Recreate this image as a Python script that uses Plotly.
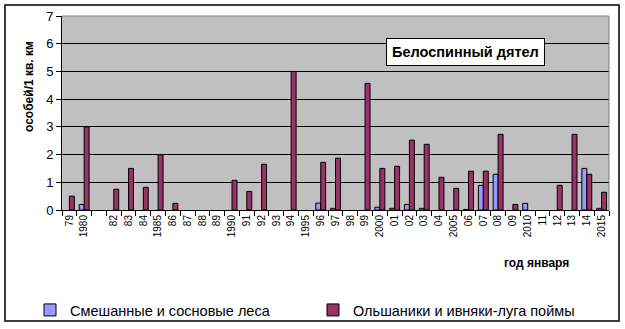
import plotly.graph_objects as go

years = list(range(1979, 2016))
tick_labels = ["79", "1980", "", "82", "83", "84", "1985", "86", "87", "88", "89",
               "1990", "91", "92", "93", "94", "1995", "96", "97", "98", "99",
               "2000", "01", "02", "03", "04", "2005", "06", "07", "08", "09",
               "2010", "11", "12", "13", "14", "2015"]

mixed_forest = [0, 0.2, None, 0, 0, 0, 0, 0, 0, 0, 0,
                0, 0, 0, 0, 0, 0, 0.25, 0.06, 0, 0,
                0.1, 0.06, 0.2, 0.06, 0, 0, 0.02, 0.89, 1.29, 0,
                0.24, 0, 0, 0, 1.5, 0.06]
alder_willow = [0.5, 3.0, None, 0.75, 1.5, 0.82, 2.0, 0.24, 0, 0, 0,
                1.07, 0.67, 1.65, 0, 5.0, 0, 1.72, 1.87, 0, 4.57,
                1.5, 1.58, 2.52, 2.37, 1.18, 0.78, 1.4, 1.4, 2.73, 0.2,
                0, 0, 0.89, 2.73, 1.29, 0.64]

series_names = ["Смешанные и сосновые леса", "Ольшаники и ивняки-луга поймы"]
title_text = "Белоспинный дятел"
y_title = "особей/1 кв. км"
x_title = "год января"

W, H = 625, 329
L, R, T, B = 62, 609, 16, 210  # plot area in pixels


def px(x):
    return (x - L) / (R - L)


def py(y):
    return (B - y) / (B - T)


FONT = "Arial, Liberation Sans, sans-serif"

fig = go.Figure()
fig.add_bar(x=years, y=[v if v else None for v in mixed_forest], name=series_names[0],
            marker=dict(color="#9999FF", line=dict(color="black", width=1)))
fig.add_bar(x=years, y=[v if v else None for v in alder_willow], name=series_names[1],
            marker=dict(color="#993366", line=dict(color="black", width=1)))

fig.update_layout(
    width=W, height=H,
    margin=dict(l=L, r=W - R, t=T, b=H - B, autoexpand=False),
    paper_bgcolor="white",
    plot_bgcolor="#C0C0C0",
    barmode="group",
    bargap=0.33,
    bargroupgap=0,
    font=dict(family=FONT, color="black"),
    showlegend=True,
    legend=dict(orientation="h", x=px(30), y=py(310), xanchor="left", yanchor="middle",
                font=dict(size=14.5, family=FONT), itemwidth=30,
                entrywidth=238, entrywidthmode="pixels",
                bgcolor="rgba(0,0,0,0)", traceorder="normal"),
)

fig.update_xaxes(
    range=[1978.5, 2015.5],
    tickmode="array", tickvals=years, ticktext=tick_labels,
    tickangle=-90, tickfont=dict(size=10, family=FONT),
    ticks="", ticklen=0,
    minor=dict(tickmode="linear", tick0=1978.5, dtick=1, ticks="outside",
               ticklen=5, tickcolor="black", showgrid=False),
    showline=True, linecolor="black", linewidth=1,
    showgrid=False, zeroline=False,
)
fig.update_yaxes(
    range=[0, 7], dtick=1,
    tickfont=dict(size=13, family=FONT),
    ticks="outside", ticklen=5, tickcolor="black",
    showline=True, linecolor="black", linewidth=1,
    showgrid=True, gridcolor="black", gridwidth=1,
    zeroline=False,
)

# plot area border (gray top/right)
fig.add_shape(type="line", xref="paper", yref="paper", x0=0, x1=1, y0=1, y1=1,
              line=dict(color="#808080", width=1))
fig.add_shape(type="line", xref="paper", yref="paper", x0=1, x1=1, y0=0, y1=1,
              line=dict(color="#808080", width=1))
# outer chart border
fig.add_shape(type="rect", xref="paper", yref="paper",
              x0=px(5), x1=px(619), y0=py(321), y1=py(5),
              line=dict(color="black", width=1.5), layer="below")

# title box
fig.add_annotation(xref="paper", yref="paper", x=px(465), y=py(52),
                   text="<b>" + title_text + "</b>", showarrow=False,
                   font=dict(size=14.5, family=FONT, color="black"),
                   bgcolor="white", bordercolor="black", borderwidth=1,
                   borderpad=5, xanchor="center", yanchor="middle")
# y axis title
fig.add_annotation(xref="paper", yref="paper", x=px(29), y=py(87),
                   text="<b>" + y_title + "</b>", showarrow=False, textangle=-90,
                   font=dict(size=12, family=FONT, color="black"),
                   xanchor="center", yanchor="middle")
# x axis title
fig.add_annotation(xref="paper", yref="paper", x=px(536), y=py(263),
                   text="<b>" + x_title + "</b>", showarrow=False,
                   font=dict(size=12, family=FONT, color="black"),
                   xanchor="center", yanchor="middle")

fig.write_html("out.html")
